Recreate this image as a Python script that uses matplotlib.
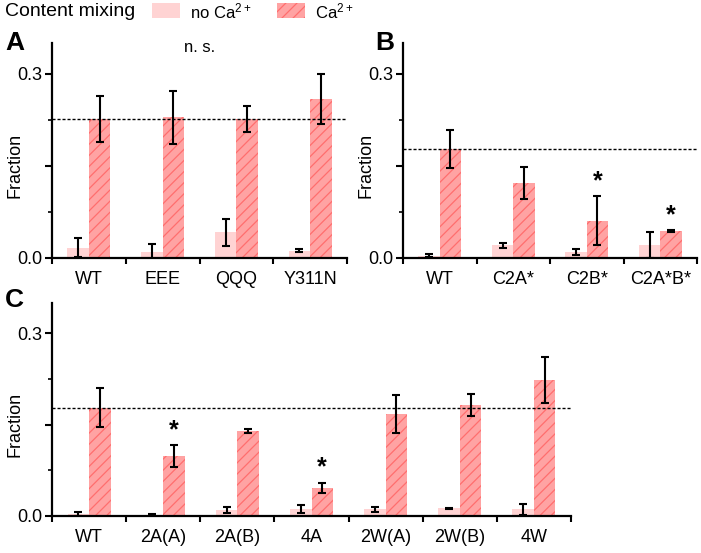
import matplotlib
matplotlib.use("Agg")
import matplotlib.pyplot as plt
from matplotlib.patches import Rectangle
import numpy as np

plt.rcParams['font.family'] = ['Liberation Sans', 'DejaVu Sans']
plt.rcParams['mathtext.default'] = 'regular'
plt.rcParams['hatch.linewidth'] = 0.9

# panel A
a_labels = ["WT", "EEE", "QQQ", "Y311N"]
a_noca = [0.017, 0.009, 0.042, 0.012]
a_noca_err = [0.015, 0.013, 0.022, 0.002]
a_ca = [0.226, 0.229, 0.226, 0.259]
a_ca_err = [0.037, 0.043, 0.021, 0.041]
a_ref = 0.227

# panel B
b_labels = ["WT", "C2A*", "C2B*", "C2A*B*"]
b_noca = [0.004, 0.021, 0.010, 0.021]
b_noca_err = [0.003, 0.004, 0.005, 0.021]
b_ca = [0.177, 0.122, 0.061, 0.044]
b_ca_err = [0.031, 0.026, 0.040, 0.002]
b_stars = [False, False, True, True]
b_ref = 0.1775

# panel C
c_labels = ["WT", "2A(A)", "2A(B)", "4A", "2W(A)", "2W(B)", "4W"]
c_noca = [0.003, 0.002, 0.010, 0.0115, 0.011, 0.0125, 0.011]
c_noca_err = [0.003, 0.002, 0.005, 0.006, 0.004, 0.001, 0.009]
c_ca = [0.178, 0.099, 0.140, 0.046, 0.1675, 0.183, 0.224]
c_ca_err = [0.032, 0.018, 0.003, 0.009, 0.031, 0.018, 0.038]
c_stars = [False, True, False, True, False, False, False]
c_ref = 0.178

NOCA_COL = "#ffd3d3"
CA_COL = "#ffa3a3"
HATCH_COL = "#ff6e6e"

W, H = 701, 553
fig = plt.figure(figsize=(W / 100, H / 100), dpi=100)


def px_axes(x0, x1, ytop, ybot):
    return fig.add_axes([x0 / W, 1 - ybot / H, (x1 - x0) / W, (ybot - ytop) / H])


def panel(ax, labels, noca, noca_err, ca, ca_err, ref, stars=None):
    n = len(labels)
    centers = np.arange(n) + 0.5
    bw = 0.29
    ax.bar(centers - bw / 2, noca, bw, color=NOCA_COL, linewidth=0)
    ax.bar(centers + bw / 2, ca, bw, color=CA_COL, edgecolor=HATCH_COL,
           hatch="///", linewidth=0)
    ekw = dict(fmt="none", ecolor="black", elinewidth=1.5, capsize=2.6, capthick=1.5)
    ax.errorbar(centers - bw / 2, noca, yerr=noca_err, **ekw)
    ax.errorbar(centers + bw / 2, ca, yerr=ca_err, **ekw)
    ax.axhline(ref, color="black", lw=1.0, ls=(0, (2.2, 1.4)), zorder=3)
    if stars:
        for i, s in enumerate(stars):
            if s:
                ax.annotate("*", (centers[i] + bw / 2, ca[i] + ca_err[i]),
                            xytext=(0, 2), textcoords="offset points",
                            ha="center", va="bottom", fontsize=18, weight="bold")
    ax.set_xlim(0, n)
    ax.set_ylim(0, 0.35)
    for s in ["top", "right"]:
        ax.spines[s].set_visible(False)
    for s in ["left", "bottom"]:
        ax.spines[s].set_linewidth(1.6)
    ax.set_xticks(np.arange(n + 1))
    ax.set_xticklabels([])
    ax.set_xticks(centers, minor=True)
    ax.set_xticklabels(labels, minor=True)
    ax.tick_params(axis="x", which="major", direction="out", length=4, width=1.5)
    ax.tick_params(axis="x", which="minor", length=0, pad=9, labelsize=13)
    ax.set_yticks([0, 0.15, 0.3])
    ax.set_yticklabels(["0.0", "", "0.3"])
    ax.set_yticks([0.075, 0.225], minor=True)
    ax.tick_params(axis="y", which="major", direction="out", length=5, width=1.5,
                   pad=2, labelsize=13)
    ax.tick_params(axis="y", which="minor", direction="out", length=3, width=1.2)
    ax.set_ylabel("Fraction", fontsize=13)


axA = px_axes(52, 347, 43, 258)
panel(axA, a_labels, a_noca, a_noca_err, a_ca, a_ca_err, a_ref)
axA.yaxis.set_label_coords(-29 / 295, 0.15 / 0.35)
axA.text(2, 0.342, "n. s.", ha="center", va="center", fontsize=12)

axB = px_axes(403, 697, 43, 258)
panel(axB, b_labels, b_noca, b_noca_err, b_ca, b_ca_err, b_ref, b_stars)
axB.yaxis.set_label_coords(-29 / 294, 0.15 / 0.35)

axC = px_axes(52, 571, 303, 516)
panel(axC, c_labels, c_noca, c_noca_err, c_ca, c_ca_err, c_ref, c_stars)
axC.yaxis.set_label_coords(-29 / 519, 0.15 / 0.35)

# panel letters
fig.text(5 / W, 1 - 50 / H, "A", fontsize=19, weight="bold", va="baseline")
fig.text(375 / W, 1 - 50 / H, "B", fontsize=19, weight="bold", va="baseline")
fig.text(5 / W, 1 - 307 / H, "C", fontsize=19, weight="bold", va="baseline")

# legend
fig.text(5 / W, 1 - 11 / H, "Content mixing", fontsize=14, va="center")
fig.patches.append(Rectangle((152 / W, 1 - 18 / H), 28 / W, 15 / H,
                             transform=fig.transFigure, facecolor=NOCA_COL, lw=0))
fig.text(190 / W, 1 - 11 / H, "no Ca$^{2+}$", fontsize=12, va="center")
fig.patches.append(Rectangle((277 / W, 1 - 18 / H), 28 / W, 15 / H,
                             transform=fig.transFigure, facecolor=CA_COL,
                             edgecolor=HATCH_COL, hatch="///", lw=0))
fig.text(315 / W, 1 - 11 / H, "Ca$^{2+}$", fontsize=12, va="center")

fig.savefig("out.png", dpi=100)
